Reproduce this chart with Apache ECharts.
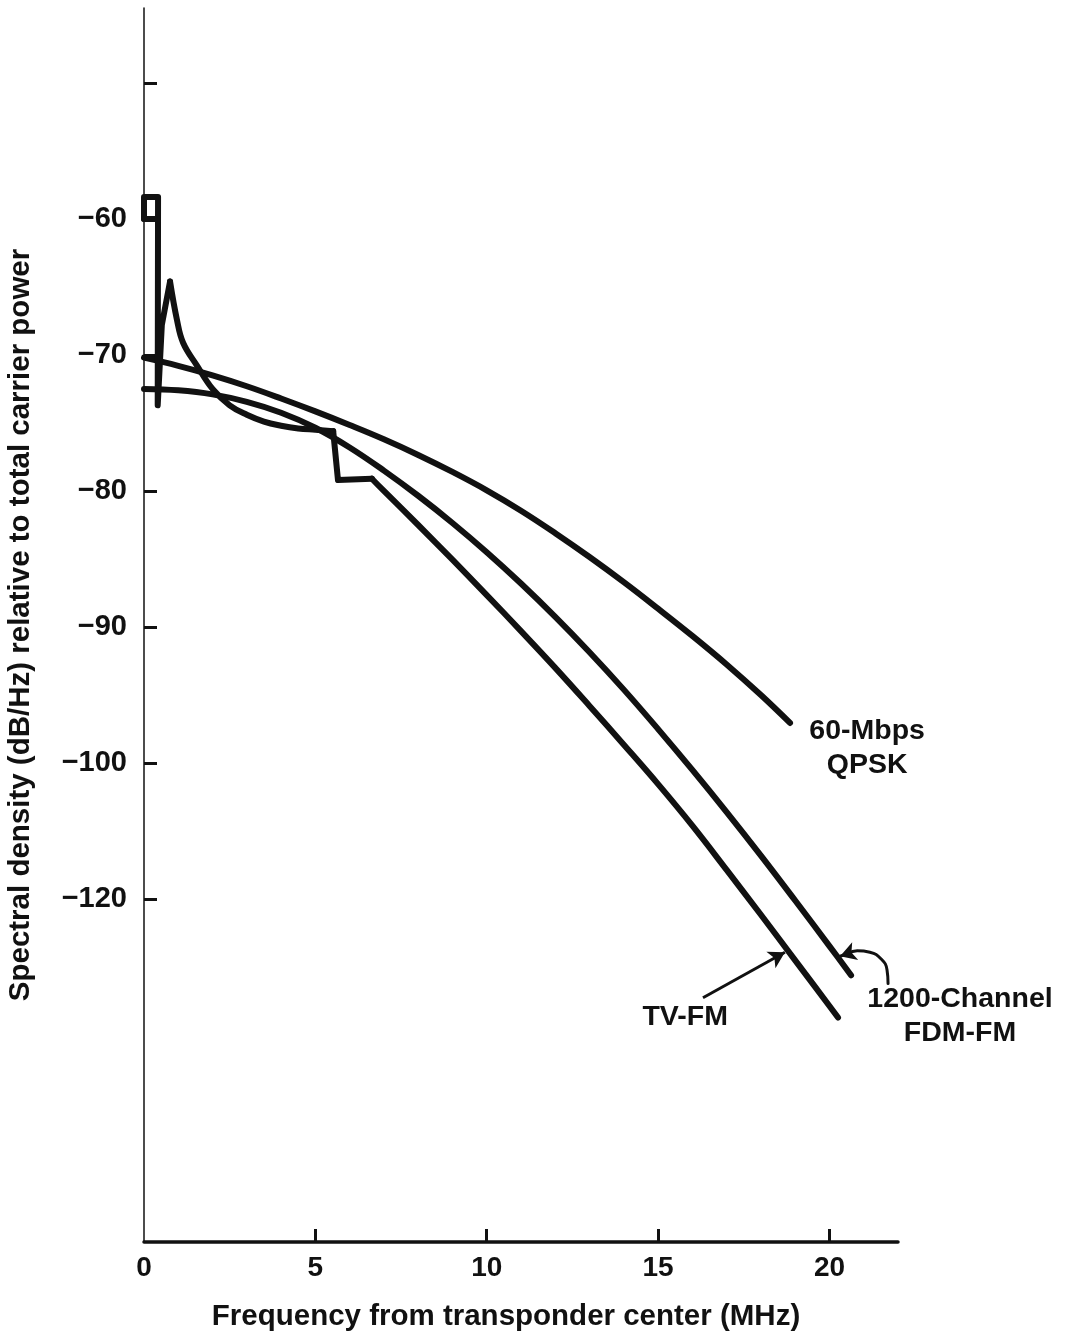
<!DOCTYPE html>
<html>
<head>
<meta charset="utf-8">
<script src="https://cdn.jsdelivr.net/npm/echarts@6/dist/echarts.min.js"></script>
<style>
  html, body { margin: 0; padding: 0; background: #fff; }
  #chart { width: 1070px; height: 1339px; }
</style>
</head>
<body>
<div id="chart"></div>
<script>
// frequency (MHz) / spectral density (dB/Hz)
const qpsk = [[0,-70.2],[1,-70.8],[2,-71.5],[3,-72.3],[4,-73.2],[5,-74.15],[6,-75.15],[7,-76.2],[8,-77.35],[9,-78.6],
  [10,-79.95],[11,-81.45],[12,-83.1],[13,-84.85],[14,-86.7],[15,-88.65],[16,-90.65],[17,-92.75],[18,-95.0],[18.85,-97.05]];
const fdmfm = [[0,-72.5],[1,-72.6],[2,-72.9],[3,-73.45],[4,-74.25],[5,-75.35],[6,-76.8],[7,-78.5],[8,-80.35],[9,-82.35],
  [10,-84.5],[11,-86.8],[12,-89.25],[13,-91.85],[14,-94.6],[15,-97.5],[16,-100.5],[17,-103.6],[18,-106.8],[19,-110.1],
  [20,-113.45],[20.63,-115.6]];
// TV-FM is drawn in pieces: carrier box, sidelobe decay, step, tail
const tvCarrier = [[0,-60],[0,-58.4],[0.41,-58.4],[0.4,-73.7],[0.52,-67.8],[0.76,-64.6]];
const tvCarrierInner = [[0,-60],[0.32,-60]];
const tvSidelobe = [[0.76,-64.6],[0.96,-67.4],[1.14,-69.1],[1.55,-70.8],[2,-72.5],[2.5,-73.7],[3,-74.4],
  [3.5,-74.9],[4,-75.2],[4.5,-75.4],[5,-75.5],[5.52,-75.6]];
const tvStep = [[5.52,-75.6],[5.66,-79.2],[6.65,-79.1]];
const tvTail = [[6.65,-79.1],[7,-80.0],[8,-82.5],[9,-85.05],[10,-87.65],[11,-90.3],[12,-93.0],[13,-95.8],[14,-98.65],
  [15,-101.55],[16,-104.6],[17,-107.85],[18,-111.15],[19,-114.5],[20,-117.85],[20.25,-118.7]];

const xTicks = [0,5,10,15,20];
const yTicks = [-50,-60,-70,-80,-90,-100,-110];
const yLabels = [-60,-70,-80,-90,-100,-110];

const font = '"Liberation Sans", Arial, sans-serif';
const ink = '#111';

const chart = echarts.init(document.getElementById('chart'));

const lineSeries = (name, data, smooth, extra) => Object.assign({
  name: name,
  type: 'line',
  data: data,
  smooth: smooth,
  showSymbol: false,
  symbol: 'none',
  clip: false,
  lineStyle: { color: ink, width: 6, cap: 'round', join: 'round' },
  silent: true
}, extra || {});

const arrowHead = (from, to) => ({
  silent: true,
  symbol: ['none', 'arrow'],
  symbolSize: [14, 16],
  label: { show: false },
  lineStyle: { color: ink, width: 3, type: 'solid' },
  data: [[{ coord: from }, { coord: to }]]
});

chart.setOption({
  backgroundColor: '#fff',
  animation: false,
  grid: { left: 144, right: 172, top: 8, bottom: 97, outerBoundsMode: 'none' },
  xAxis: {
    type: 'value',
    min: 0,
    max: 22,
    name: 'Frequency from transponder center (MHz)',
    nameLocation: 'middle',
    nameGap: 60,
    nameTextStyle: { fontFamily: font, fontSize: 29.5, fontWeight: 'bold', color: ink, padding: [0, 30, 0, 0] },
    axisLine: { lineStyle: { color: ink, width: 3.5 } },
    axisTick: { inside: true, length: 13, lineStyle: { color: ink, width: 3 }, customValues: xTicks.slice(1) },
    axisLabel: { customValues: xTicks, margin: 12, fontFamily: font, fontSize: 28, fontWeight: 'bold', color: ink },
    splitLine: { show: false }
  },
  yAxis: {
    type: 'value',
    min: -135.2,
    max: -44.5,
    name: 'Spectral density (dB/Hz) relative to total carrier power',
    nameLocation: 'middle',
    nameGap: 108,
    nameTextStyle: { fontFamily: font, fontSize: 29.5, fontWeight: 'bold', color: ink },
    axisLine: { show: true, lineStyle: { color: ink, width: 1.5 } },
    axisTick: { show: true, inside: true, length: 13, lineStyle: { color: ink, width: 3 }, customValues: yTicks },
    axisLabel: {
      customValues: yLabels,
      margin: 17,
      fontFamily: font, fontSize: 29, fontWeight: 'bold', color: ink,
      // the printed axis labels its lowest tick -120
      formatter: v => '\u2212' + (v === -110 ? 120 : Math.abs(v))
    },
    splitLine: { show: false }
  },
  series: [
    lineSeries('60-Mbps QPSK', qpsk, 0.4),
    lineSeries('1200-Channel FDM-FM', fdmfm, 0.4),
    lineSeries('TV-FM', tvCarrier, false),
    lineSeries('TV-FM', tvCarrierInner, false),
    lineSeries('TV-FM', tvSidelobe, 0.4),
    lineSeries('TV-FM', tvStep, false),
    lineSeries('TV-FM', tvTail, 0.4, {
      markLine: arrowHead([16.31, -117.25], [18.7, -113.9])
    }),
    // hooked pointer from the FDM-FM label to its curve
    lineSeries('pointer', [[21.71,-116.2],[21.68,-115.2],[21.51,-114.4],[21.18,-113.9],[20.81,-113.8],[20.54,-114.0]], 0.5, {
      lineStyle: { color: ink, width: 3, cap: 'round' },
      markLine: arrowHead([20.6, -113.95], [20.31, -114.2])
    })
  ]
});

// curve labels, placed in data coordinates
const notes = [
  { text: '60-Mbps\nQPSK', at: [21.1, -98.9] },
  { text: 'TV-FM', at: [15.79, -118.7] },
  { text: '1200-Channel\nFDM-FM', at: [23.81, -118.6] }
];
chart.setOption({
  graphic: notes.map(n => {
    const p = chart.convertToPixel({ gridIndex: 0 }, n.at);
    return {
      type: 'text',
      x: p[0], y: p[1],
      style: {
        text: n.text,
        fontFamily: font, fontSize: 28.5, fontWeight: 'bold', fill: ink,
        lineHeight: 34,
        align: 'center', verticalAlign: 'middle'
      }
    };
  })
});

window.addEventListener('resize', () => chart.resize());
</script>
</body>
</html>
